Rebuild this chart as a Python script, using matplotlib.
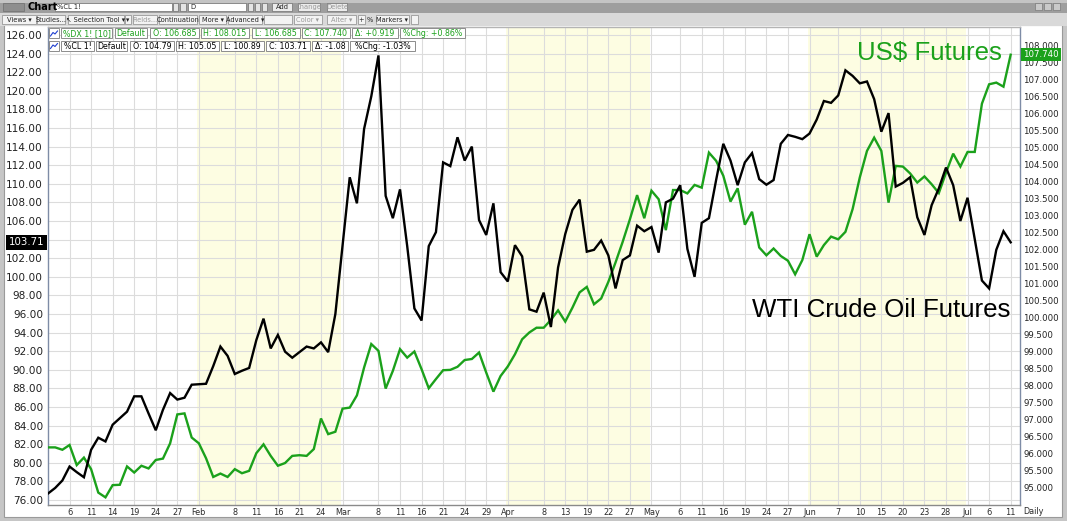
import numpy as np
import pandas as pd
import matplotlib
matplotlib.use("Agg")
import matplotlib.pyplot as plt
from matplotlib.patches import Rectangle
from matplotlib.lines import Line2D

W, H = 1067, 521
GREEN = "#1ba11b"
BAND = "#fdfde2"
GRID = "#dcdcdc"

# ---- data (daily bars, CME calendar: Good Friday closed) ----
DATES = [d for d in pd.bdate_range("2022-01-03", "2022-07-11")
         if d != pd.Timestamp("2022-04-15")]

# WTI crude oil futures (left axis)
CL = [76.7, 77.3, 78.1, 79.6, 79.0, 78.45, 81.4, 82.7, 82.3, 84.1,
      84.8, 85.5, 87.15, 87.15, 85.3, 83.5, 85.7, 87.5, 86.8, 87.0,
      88.4, 88.45, 88.5, 90.4, 92.5, 91.5, 89.55, 89.9, 90.2, 93.2,
      95.5, 92.3, 93.75, 91.95, 91.3, 91.9, 92.5, 92.3, 92.95, 91.9,
      96.0, 103.4, 110.7, 107.9, 115.9, 119.4, 123.8, 108.7, 106.3, 109.4,
      103.3, 96.6, 95.3, 103.3, 104.8, 112.3, 111.9, 115.0, 112.5, 114.0,
      106.1, 104.5, 107.9, 100.5, 99.5, 103.4, 102.2, 96.5, 96.25, 98.3,
      94.6, 101.0, 104.6, 107.2, 108.3, 102.7, 102.9, 103.9, 102.3, 98.75,
      101.8, 102.3, 105.5, 104.9, 105.35, 102.6, 108.0, 108.4, 109.85, 103.0,
      100.0, 105.8, 106.3, 110.4, 114.3, 112.5, 109.85, 112.3, 113.3, 110.5,
      109.9, 110.4, 114.3, 115.25, 115.05, 114.8, 115.4, 116.9, 118.9, 118.7,
      119.5, 122.2, 121.6, 120.8, 121.0, 119.1, 115.6, 117.6, 109.7, 110.1,
      110.7, 106.4, 104.5, 107.7, 109.5, 111.75, 109.85, 106.0, 108.5, 104.05,
      99.6, 98.75, 102.9, 104.9, 103.71]

# US dollar index futures (right axis)
DX = [96.19, 96.19, 96.12, 96.26, 95.67, 95.89, 95.55, 94.86, 94.72, 95.08,
      95.09, 95.63, 95.45, 95.65, 95.57, 95.82, 95.86, 96.31, 97.16, 97.19,
      96.48, 96.31, 95.87, 95.32, 95.42, 95.32, 95.55, 95.43, 95.50, 96.02,
      96.28, 95.94, 95.65, 95.73, 95.94, 95.96, 95.94, 96.14, 97.04, 96.58,
      96.65, 97.33, 97.36, 97.72, 98.54, 99.23, 99.03, 97.92, 98.44, 99.08,
      98.83, 99.01, 98.49, 97.93, 98.20, 98.46, 98.47, 98.56, 98.76, 98.79,
      98.98, 98.39, 97.83, 98.29, 98.57, 98.93, 99.37, 99.57, 99.71, 99.71,
      99.94, 100.22, 99.89, 100.30, 100.75, 100.91, 100.40, 100.57, 101.06, 101.63,
      102.24, 102.90, 103.61, 102.93, 103.74, 103.49, 102.58, 103.76, 103.76, 103.66,
      103.91, 103.83, 104.86, 104.62, 104.18, 103.42, 103.81, 102.74, 103.12, 102.07,
      101.84, 102.04, 101.82, 101.68, 101.28, 101.70, 102.46, 101.80, 102.14, 102.39,
      102.31, 102.53, 103.20, 104.13, 104.91, 105.30, 104.91, 103.39, 104.47, 104.45,
      104.25, 103.98, 104.16, 103.93, 103.67, 104.27, 104.83, 104.45, 104.88, 104.88,
      106.30, 106.87, 106.92, 106.80, 107.74]

TICK_DATES = ["2022-01-06", "2022-01-11", "2022-01-14", "2022-01-19", "2022-01-24",
              "2022-01-27", "2022-02-01", "2022-02-08", "2022-02-11", "2022-02-16",
              "2022-02-21", "2022-02-24", "2022-03-01", "2022-03-08", "2022-03-11",
              "2022-03-16", "2022-03-21", "2022-03-24", "2022-03-29", "2022-04-01",
              "2022-04-08", "2022-04-13", "2022-04-19", "2022-04-22", "2022-04-27",
              "2022-05-02", "2022-05-06", "2022-05-11", "2022-05-16", "2022-05-19",
              "2022-05-24", "2022-05-27", "2022-06-01", "2022-06-07", "2022-06-10",
              "2022-06-15", "2022-06-20", "2022-06-23", "2022-06-28", "2022-07-01",
              "2022-07-06", "2022-07-11"]
TICK_LABELS = ["6", "11", "14", "19", "24", "27", "Feb", "8", "11", "16", "21", "24",
               "Mar", "8", "11", "16", "21", "24", "29", "Apr", "8", "13", "19", "22",
               "27", "May", "6", "11", "16", "19", "24", "27", "Jun", "7", "10", "15",
               "20", "23", "28", "Jul", "6", "11"]
SHADED = [("2022-02-01", "2022-03-01"), ("2022-04-01", "2022-05-02"),
          ("2022-06-01", "2022-07-01")]

LEFT_TICKS = np.arange(76, 126.1, 2)
RIGHT_TICKS = np.arange(95, 108.01, 0.5)

LEGEND_DX = ["%DX 1! [10]", "Default", "O: 106.685", "H: 108.015", "L: 106.685",
             "C: 107.740", "\u0394: +0.919", "%Chg: +0.86%"]
LEGEND_CL = ["%CL 1!", "Default", "O: 104.79", "H: 105.05", "L: 100.89",
             "C: 103.71", "\u0394: -1.08", "%Chg: -1.03%"]


def idx(date):
    return DATES.index(pd.Timestamp(date))


fig = plt.figure(figsize=(W / 100, H / 100), dpi=100, facecolor="#c6c6c6")


def rect(x0, y0, x1, y1, fc, ec="none", lw=0.8, z=1):
    fig.add_artist(Rectangle((x0 / W, 1 - y1 / H), (x1 - x0) / W, (y1 - y0) / H,
                             transform=fig.transFigure, facecolor=fc,
                             edgecolor=ec, linewidth=lw, zorder=z))


def label(x, y, s, z=5, **kw):
    fig.text(x / W, 1 - y / H, s, zorder=z, **kw)


# window background and frame
rect(4, 25, 1062, 517, "white", ec="#9a9a9a", lw=0.8, z=-2)

# ---- title bar ----
rect(0, 0, W, 13, "#9e9e9e", z=1)
rect(0, 0, W, 3, "#c4c4c4", z=1)
rect(3, 3, 24, 11, "#8e8e8e", ec="#6f6f6f", lw=0.5, z=2)
label(27, 7.5, "Chart", fontsize=7, fontweight="bold", va="center", color="black")
rect(55, 3, 172, 11, "white", ec="#707070", lw=0.5, z=2)
label(57, 7.2, "%CL 1!", fontsize=4.9, va="center", color="#222")
rect(173, 3, 178, 11, "#e4e4e4", ec="#707070", lw=0.5, z=2)
rect(180, 3, 186, 11, "#e4e4e4", ec="#707070", lw=0.5, z=2)
rect(188, 3, 246, 11, "white", ec="#707070", lw=0.5, z=2)
label(190, 7.2, "D", fontsize=4.9, va="center", color="#222")
for bx in (248, 255, 262):
    rect(bx, 3, bx + 5, 11, "#e4e4e4", ec="#707070", lw=0.5, z=2)
for x0, x1, txt, col in [(272, 292, "Add", "#222"), (298, 320, "Change", "#9a9a9a"),
                         (327, 347, "Delete", "#9a9a9a")]:
    rect(x0, 3, x1, 11, "#ececec", ec="#707070", lw=0.5, z=2)
    label((x0 + x1) / 2, 7.2, txt, fontsize=4.9, ha="center", va="center", color=col)
for bx in (1035, 1044, 1053):
    rect(bx, 3, bx + 7, 10, "#c9c9c9", ec="#7a7a7a", lw=0.5, z=2)

# ---- tool bar ----
rect(0, 13, W, 25.5, "#d9d9d9", z=1)
buttons = [(2, 36, "Views \u25be", "#222"), (37, 65, "Studies...", "#222"),
           (68, 124, "\u2196 Selection Tool \u25be", "#222"), (125, 131, "\u25be", "#222"),
           (133, 157, "Fields...", "#9a9a9a"), (159, 197, "Continuation", "#222"),
           (199, 226, "More \u25be", "#222"), (228, 262, "Advanced \u25be", "#222"),
           (264, 292, "", "#222"), (294, 322, "Color \u25be", "#9a9a9a"),
           (327, 356, "Alter \u25be", "#9a9a9a"), (358, 365, "+", "#222"),
           (376, 409, "Markers \u25be", "#222"), (411, 418, "", "#222")]
for x0, x1, txt, col in buttons:
    rect(x0, 15, x1, 24, "#f3f3f3", ec="#8a8a8a", lw=0.5, z=2)
    if txt:
        label((x0 + x1) / 2, 19.6, txt, fontsize=4.8, ha="center", va="center", color=col)
label(370, 19.6, "%", fontsize=4.8, ha="center", va="center", color="#222")

# ---- main plot ----
L, R, T, B = 48, 1020, 26.5, 504.5
area = [L / W, 1 - B / H, (R - L) / W, (B - T) / H]
axd = fig.add_axes(area)                 # dollar, right scale
axc = fig.add_axes(area, sharex=axd)     # crude, left scale
axc.set_facecolor("none")

x = np.arange(len(DATES))
cl_lim = (75.52, 126.91)
dx_lim = (94.51, 108.57)
axd.set_xlim(0, 135.3)
axd.set_ylim(*dx_lim)
axc.set_ylim(*cl_lim)

for start, end in SHADED:
    axd.axvspan(idx(start) - 0.25, idx(end) - 0.25, color=BAND, zorder=0.2, lw=0)

tick_pos = [idx(d) for d in TICK_DATES]
axd.set_xticks(tick_pos)
axd.set_xticklabels(TICK_LABELS)
axd.tick_params(axis="x", length=0, pad=2.6, labelsize=5.9, labelcolor="#2a2a2a")
axd.grid(axis="x", color=GRID, lw=0.8, zorder=0.5)
axd.set_axisbelow(True)
for v in LEFT_TICKS:
    f = (v - cl_lim[0]) / (cl_lim[1] - cl_lim[0])
    axd.plot([0, 1], [f, f], transform=axd.transAxes, color=GRID, lw=0.8, zorder=0.5)

axd.yaxis.tick_right()
axd.set_yticks(RIGHT_TICKS)
axd.set_yticklabels([f"{v:.3f}" for v in RIGHT_TICKS])
axd.tick_params(axis="y", length=0, pad=2.2, labelsize=6.2, labelcolor="#222")
for side, col in [("left", "#7e8ca6"), ("right", "#7e8ca6"),
                  ("bottom", "#8a8a8a"), ("top", "#b4b4b4")]:
    axd.spines[side].set_color(col)
    axd.spines[side].set_linewidth(1.0)

axc.yaxis.tick_left()
axc.set_yticks(LEFT_TICKS)
axc.set_yticklabels(["" if abs(v - 104) < 0.01 else f"{v:.2f}" for v in LEFT_TICKS])
axc.tick_params(axis="y", length=0, pad=3.6, labelsize=7.6, labelcolor="#222")
axc.tick_params(axis="x", length=0, labelbottom=False)
for s in axc.spines.values():
    s.set_visible(False)

axd.plot(x, DX, color=GREEN, lw=1.7, zorder=3, solid_joinstyle="miter")
axc.plot(x, CL, color="black", lw=1.7, zorder=3, solid_joinstyle="miter")

# last price boxes
axc.text(-0.0037, CL[-1], f"{CL[-1]:.2f}", transform=axc.get_yaxis_transform(),
         ha="right", va="center", fontsize=7.4, color="white", zorder=6,
         bbox=dict(boxstyle="square,pad=0.25", facecolor="black", edgecolor="none"))
axd.text(1.0031, DX[-1], f"{DX[-1]:.3f}", transform=axd.get_yaxis_transform(),
         ha="left", va="center", fontsize=6.2, color="white", zorder=6,
         bbox=dict(boxstyle="square,pad=0.25", facecolor=GREEN, edgecolor="none"))

# ---- legend cells ----
row_dx = [(61, 112), (115, 147), (150, 199), (201, 249), (252, 300),
          (302, 350), (352, 398), (400, 465)]
row_cl = [(61, 94), (96, 127), (130, 174), (176, 219), (221, 264),
          (266, 310), (312, 348), (350, 415)]
for (y0, y1), cells, texts, col in [((28.5, 38.5), row_dx, LEGEND_DX, GREEN),
                                    ((41.0, 51.0), row_cl, LEGEND_CL, "black")]:
    rect(49, y0, 59, y1, "white", ec="#8c8c8c", lw=0.7, z=4)
    fig.add_artist(Line2D([50.5 / W, 53 / W, 55 / W, 57.5 / W],
                          [1 - (y1 - 2.5) / H, 1 - (y0 + 4) / H, 1 - (y0 + 5.5) / H, 1 - (y0 + 2.5) / H],
                          transform=fig.transFigure, color="#1f3fd0", lw=0.8, zorder=5))
    for (x0, x1), txt in zip(cells, texts):
        rect(x0, y0, x1, y1, "white", ec="#8c8c8c", lw=0.7, z=4)
        label((x0 + x1) / 2, (y0 + y1) / 2 + 0.3, txt, fontsize=5.7,
              ha="center", va="center", color=col)

# ---- annotations ----
label(1002, 59.5, "US$ Futures", fontsize=18.6, family="Liberation Sans",
      color=GREEN, ha="right", va="baseline")
label(1010, 317, "WTI Crude Oil Futures", fontsize=18.6, family="Liberation Sans",
      color="black", ha="right", va="baseline")
label(1023, 511.5, "Daily", fontsize=5.9, ha="left", va="center", color="#2a2a2a")

fig.savefig("out.png", dpi=100, facecolor=fig.get_facecolor())
